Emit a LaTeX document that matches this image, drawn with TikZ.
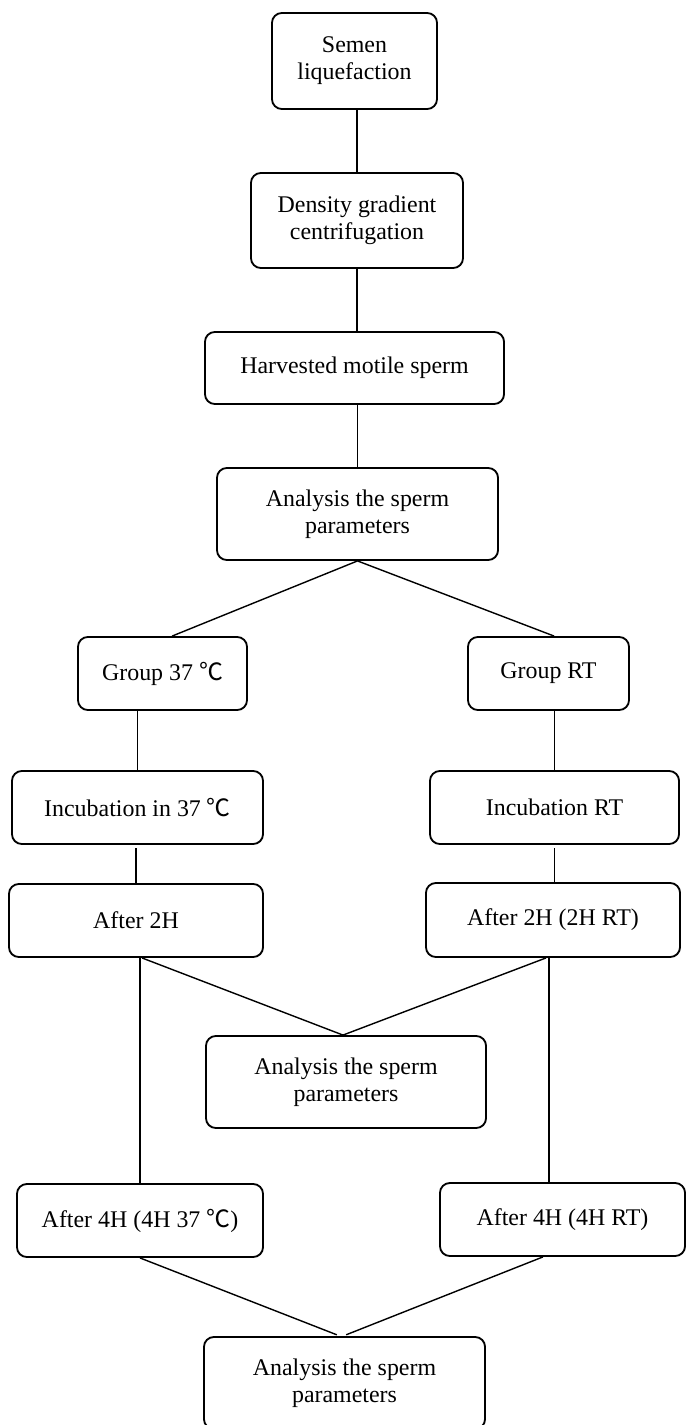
\documentclass[tikz,border=0pt]{standalone}
\usepackage{fontspec}
\setmainfont{Liberation Serif}
\newfontfamily\cjk{Noto Sans CJK SC}
\usepackage{tikz}
\tikzset{
	flownode/.style = {align=center, inner sep=0pt, text centered,
		font=\fontsize{17}{19.2}\selectfont},
	box_n/.style = {flownode, rectangle, rounded corners=7pt, draw=black,
		line width=1.3pt},% boite du processus
	link/.style = {draw=black, line width=1pt}% trait simple
}

\begin{document}
\begin{tikzpicture}[x=0.025cm, y=-0.025cm]
\clip (0,0) rectangle (686,1425);
% preparation
\node [box_n, minimum width=4.125cm, minimum height=2.4cm] (semen) at (354.5,61) {Semen\\liquefaction};
\node [box_n, minimum width=5.3cm, minimum height=2.375cm] (dgc) at (357,220.5) {Density gradient\\centrifugation};
\node [box_n, minimum width=7.475cm, minimum height=1.8cm] (harv) at (354.5,368) {Harvested motile sperm};
\node [box_n, minimum width=7.025cm, minimum height=2.3cm] (anl_a) at (357.5,514) {Analysis the sperm\\parameters};
% deux groupes
\node [box_n, minimum width=4.225cm, minimum height=1.825cm] (g37) at (162.5,673.5) {Group 37 {\cjk ℃}};
\node [box_n, minimum width=4.025cm, minimum height=1.825cm] (grt) at (548.5,673.5) {Group RT};
\node [box_n, minimum width=6.275cm, minimum height=1.825cm] (inc37) at (137.5,807.5) {Incubation in 37 {\cjk ℃}};
\node [box_n, minimum width=6.225cm, minimum height=1.825cm] (incrt) at (554.5,807.5) {Incubation RT};
\node [box_n, minimum width=6.35cm, minimum height=1.825cm] (a2h) at (136,920.5) {After 2H};
\node [box_n, minimum width=6.35cm, minimum height=1.85cm] (a2hrt) at (553,920) {After 2H (2H RT)};
\node [box_n, minimum width=7cm, minimum height=2.3cm] (anl_b) at (346,1082) {Analysis the sperm\\parameters};
\node [box_n, minimum width=6.15cm, minimum height=1.825cm] (a4h37) at (140,1220.5) {After 4H (4H 37 {\cjk ℃})};
\node [box_n, minimum width=6.125cm, minimum height=1.825cm] (a4hrt) at (562.5,1219.5) {After 4H (4H RT)};
\node [box_n, minimum width=7.025cm, minimum height=2.3cm] (anl_c) at (344.5,1383) {Analysis the sperm\\parameters};
% traits
\draw [link] (dgc.north |- semen.south) -- (dgc.north);
\draw [link] (dgc.south) -- (dgc.south |- harv.north);
\draw [link] (anl_a.north |- harv.south) -- (anl_a.north);
\draw [link] (anl_a.south) -- ([xshift=0.24cm]g37.north);
\draw [link] (anl_a.south) -- ([xshift=0.14cm]grt.north);
\draw [link] (inc37.north |- g37.south) -- (inc37.north);
\draw [link] (incrt.north |- grt.south) -- (incrt.north);
\draw [link, shorten >=2.5pt] (a2h.north) -- (a2h.north |- inc37.south);
\draw [link, shorten <=2.5pt] (incrt.south) -- (incrt.south |- a2hrt.north);
\draw [link] (a4h37.north |- a2h.south) -- (a4h37.north);
\draw [link] ([xshift=0.15cm]a2h.south) -- ([xshift=-0.075cm]anl_b.north);
\draw [link] ([xshift=-0.1cm]a2hrt.south) -- ([xshift=-0.1cm]a2hrt.south |- a4hrt.north);
\draw [link] ([xshift=-0.175cm]a2hrt.south) -- ([xshift=-0.075cm]anl_b.north);
\draw [link, shorten >=2.5pt] (a4h37.south) -- ([xshift=-0.11cm]anl_c.north);
\draw [link, shorten >=2.5pt] ([xshift=-0.49cm]a4hrt.south) -- ([xshift=-0.04cm]anl_c.north);
\end{tikzpicture}
\end{document}
